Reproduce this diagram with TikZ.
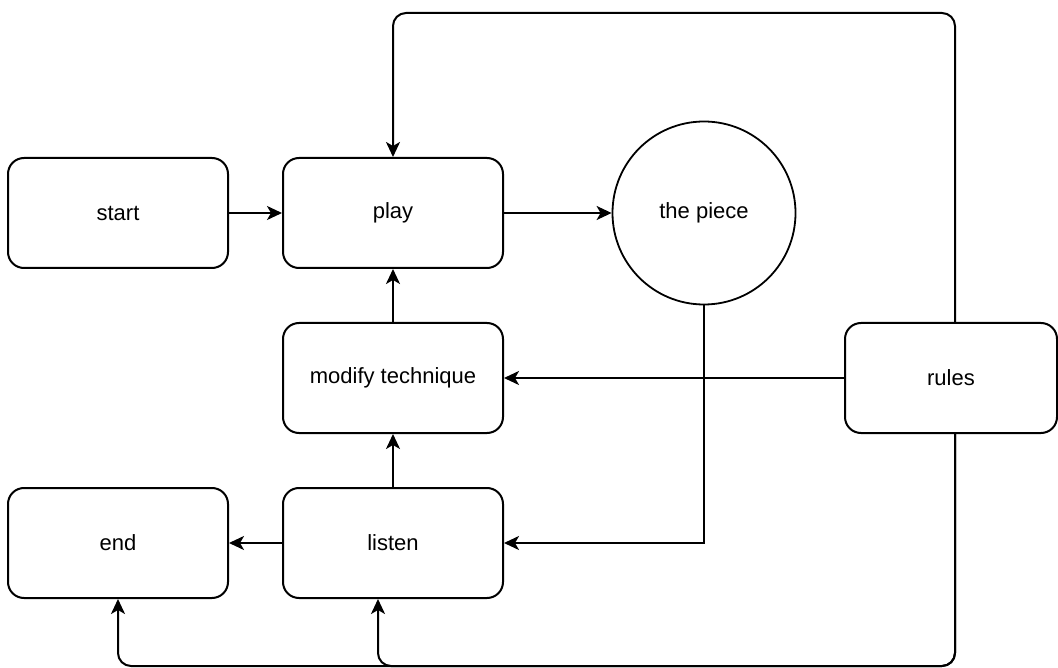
\documentclass[tikz,border=0pt]{standalone}
\usepackage{fontspec}
\setmainfont{Liberation Sans}
\usetikzlibrary{arrows.meta,positioning}
\begin{document}
\begin{tikzpicture}[x=1pt,y=-1pt,
  box/.style={draw, line width=2pt, rounded corners=16pt, minimum width=220pt,
    minimum height=110pt, inner sep=0pt, font=\fontsize{22}{26}\selectfont},
  ring/.style={draw, line width=1.8pt, circle, minimum size=183pt, inner sep=0pt,
    font=\fontsize{22}{26}\selectfont},
  arr/.style={line width=2pt, -{Stealth[length=15pt,width=14pt,inset=4pt]}},
  loop/.style={arr, rounded corners=13pt}]
\useasboundingbox (0,0) rectangle (1058,668);

% process steps
\node[box] (start)  at (118,213) {start};
\node[box] (play)   at (393,213) {play};
\node[ring] (piece) at (704,213) {the piece};
\node[box] (modify) at (393,378) {modify technique};
\node[box, minimum width=212pt] (rules) at (951,378) {rules};
\node[box] (end)    at (118,543) {end};
\node[box] (listen) at (393,543) {listen};

% helper points for the feedback loops
\coordinate (topc) at (0,13);
\coordinate (botc) at (0,666);
\coordinate (rtop) at ([xshift=4pt]rules.north);
\coordinate (rbot) at ([xshift=4pt]rules.south);
\coordinate (lin)  at ([xshift=-15pt]listen.south);

% main flow
\draw[arr] (start) -- (play);
\draw[arr] (play) -- (piece);
\draw[arr] (modify) -- (play);
\draw[arr] (listen) -- (modify);
\draw[arr] (listen) -- (end);
\draw[arr] (piece.south) |- (listen.east);
\draw[arr] (rules) -- (modify);

% rules feed back to play, end and listen
\draw[loop] (rtop) |- (play.north |- topc) -- (play.north);
\draw[loop] (rbot) |- (end.south |- botc) -- (end.south);
\draw[loop] (rbot) |- (lin |- botc) -- (lin);
\end{tikzpicture}
\end{document}
